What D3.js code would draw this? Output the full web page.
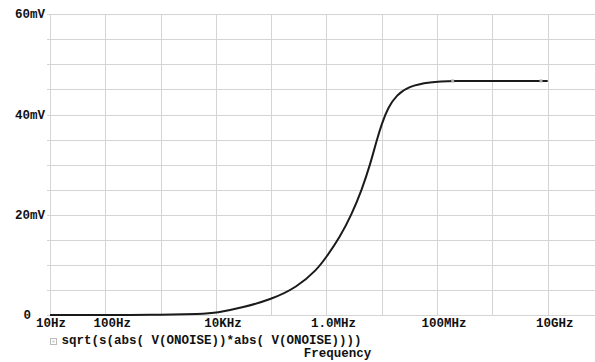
<!DOCTYPE html>
<meta charset="UTF-8">
<head>
<script src="https://d3js.org/d3.v7.min.js"></script>
<style>
  body { margin: 0; background: #fff; }
  text { font-family: "Liberation Mono", "DejaVu Sans Mono", monospace; font-weight: bold; fill: #111; }
  .grid line { stroke: #d4d4d4; stroke-width: 1px; }
</style>
</head>
<body>
<script>
// frequency (Hz) and output noise (mV)
var freqs = [10, 100, 640, 5.9e3, 1e4, 3.1e4, 1e5, 2.9e5, 6.7e5, 1e6, 1.74e6, 2.86e6, 4.32e6,
             6.12e6, 8.1e6, 1e7, 1.31e7, 1.86e7, 3.0e7, 7.4e7, 1.9e8, 1e9, 1e10];
var noise = [0, 0, 0.03, 0.2, 0.4, 1.5, 3.1, 5.5, 9.0, 11.6, 15.5, 20.1, 24.9,
             29.9, 34.9, 38.2, 41.5, 43.9, 45.6, 46.5, 46.7, 46.7, 46.7];
var markerFreqs = [1.91e8, 7.57e9];

var xTicks = [10, 100, 1e4, 1e6, 1e8, 1e10];
var xTickLabels = ["10Hz", "100Hz", "10KHz", "1.0MHz", "100MHz", "10GHz"];
var yTicks = [0, 20, 40, 60];
var yTickLabels = ["0", "20mV", "40mV", "60mV"];
var legendText = "sqrt(s(abs( V(ONOISE))*abs( V(ONOISE))))";
var xTitle = "Frequency";

var width = 595, height = 362;
var plotLeft = 50, plotTop = 14.3, plotBottom = 315;

var svg = d3.select("body").append("svg")
    .attr("width", width)
    .attr("height", height);

var x = d3.scaleLog().domain([10, 1e11]).range([plotLeft, plotLeft + 10 * 55.3]);
var y = d3.scaleLinear().domain([0, 60]).range([plotBottom, plotTop]);

// grid
var grid = svg.append("g").attr("class", "grid");
grid.selectAll("line.h")
    .data(d3.range(0, 61, 5))
    .enter().append("line")
    .attr("class", "h")
    .attr("x1", plotLeft - 3)
    .attr("x2", x.range()[1])
    .attr("y1", function (d) { return Math.round(y(d)) + 0.5; })
    .attr("y2", function (d) { return Math.round(y(d)) + 0.5; });

grid.selectAll("line.v")
    .data(d3.range(1, 12).map(function (p) { return Math.pow(10, p); }))
    .enter().append("line")
    .attr("class", "v")
    .attr("x1", function (d) { return Math.round(x(d)) + 0.5; })
    .attr("x2", function (d) { return Math.round(x(d)) + 0.5; })
    .attr("y1", plotTop)
    .attr("y2", plotBottom);

// y labels
svg.selectAll("text.ylab")
    .data(yTicks)
    .enter().append("text")
    .attr("class", "ylab")
    .attr("x", function (d) { return d === 0 ? 31 : 45; })
    .attr("y", function (d) { return y(d) + 4; })
    .attr("text-anchor", "end")
    .style("font-size", "12.5px")
    .text(function (d, i) { return yTickLabels[i]; });

// x labels
svg.selectAll("text.xlab")
    .data(xTicks)
    .enter().append("text")
    .attr("class", "xlab")
    .attr("x", function (d, i) { return x(d) + (i === 0 ? 1 : 7); })
    .attr("y", 327)
    .attr("text-anchor", "middle")
    .style("font-size", "12.5px")
    .text(function (d, i) { return xTickLabels[i]; });

// curve
var pts = freqs.map(function (f, i) { return [f, noise[i]]; });
var line = d3.line()
    .x(function (d) { return x(d[0]); })
    .y(function (d) { return y(d[1]); })
    .curve(d3.curveBasis);

svg.append("path")
    .datum(pts)
    .attr("d", line)
    .attr("fill", "none")
    .attr("stroke", "#1a1a1a")
    .attr("stroke-width", 2);

// point markers on the plateau
svg.selectAll("rect.mk")
    .data(markerFreqs)
    .enter().append("rect")
    .attr("class", "mk")
    .attr("x", function (d) { return x(d) - 1.5; })
    .attr("y", y(46.7) - 1.5)
    .attr("width", 3)
    .attr("height", 3)
    .attr("fill", "#aaa");

// legend
svg.append("rect")
    .attr("x", 50.5).attr("y", 338.5)
    .attr("width", 6).attr("height", 6)
    .attr("fill", "none").attr("stroke", "#bbb");
svg.append("rect")
    .attr("x", 52.5).attr("y", 340.5)
    .attr("width", 2).attr("height", 2)
    .attr("fill", "#ccc");

svg.append("text")
    .attr("x", 61.5)
    .attr("y", 344)
    .style("font-size", "12.5px")
    .text(legendText);

svg.append("text")
    .attr("x", 337.5)
    .attr("y", 356.5)
    .attr("text-anchor", "middle")
    .style("font-size", "12.5px")
    .text(xTitle);
</script>
</body>
